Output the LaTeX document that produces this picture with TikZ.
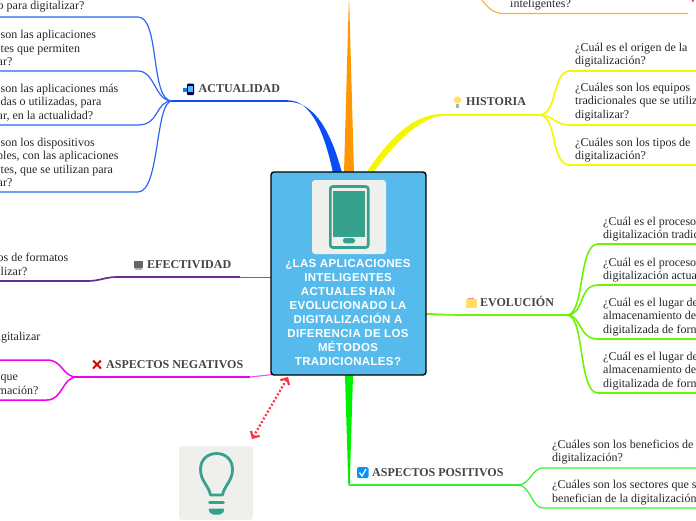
\documentclass[tikz,border=0pt]{standalone}
\usepackage{fontspec}
\setmainfont{Liberation Serif}
\newfontfamily\titulofont[LetterSpace=3]{Liberation Sans}
\usetikzlibrary{arrows.meta}

\definecolor{azulcaja}{HTML}{56BBEC}
\definecolor{tealicono}{HTML}{36A28D}
\definecolor{fondoicono}{HTML}{EFEFEB}
\definecolor{azulrama}{HTML}{0A4DF5}
\definecolor{azulhoja}{HTML}{2B66F6}
\definecolor{naranjarama}{HTML}{FF9800}
\definecolor{amarillorama}{HTML}{F6F600}
\definecolor{lima}{HTML}{6CF400}
\definecolor{verderama}{HTML}{00F000}
\definecolor{verdehoja}{HTML}{33EE33}
\definecolor{purpura}{HTML}{6A2C91}
\definecolor{magenta2}{HTML}{F000F0}
\definecolor{rojorel}{HTML}{FF3344}
\definecolor{textotema}{HTML}{444444}

\tikzset{
  central/.style={draw=black, line width=1.4pt, fill=azulcaja, rounded corners=3pt, minimum width=155pt, minimum height=203pt, inner sep=0pt},
  titulo/.style={text=white, align=center, inner sep=0pt, font=\titulofont\bfseries\fontsize{11.5}{14}\selectfont},
  fondoimg/.style={fill=fondoicono, rounded corners=3pt, inner sep=0pt, minimum width=74pt, minimum height=74pt},
  tema/.style={anchor=base west, inner sep=0pt, text=textotema, font=\bfseries\fontsize{12}{14}\selectfont},
  hoja/.style={anchor=west, align=left, inner sep=0pt, yshift=-1pt, text=black!85, font=\fontsize{12}{13.6}\selectfont},
  relacion/.style={rojorel, line width=2.2pt, dash pattern=on 2pt off 2pt, {Straight Barb[length=5pt,width=10pt]}-{Straight Barb[length=5pt,width=10pt]}}
}

\begin{document}
\begin{tikzpicture}[x=1pt,y=-1pt]
\useasboundingbox (0,0) rectangle (696,520);
\clip (0,0) rectangle (696,520);

% Ramas gruesas que salen de la caja central
\coordinate (actA) at (333,173);
\coordinate (actB) at (342,173);
\coordinate (act0) at (288,101);
\coordinate (hisA) at (366,173);
\coordinate (hisB) at (373,173);
\coordinate (his0) at (442,115);
\coordinate (posA) at (345,375);
\coordinate (posB) at (353,375);
\coordinate (pos0) at (349,485);
\fill[azulrama] (actA) .. controls (325,135) and (312,100.3) .. (288,100.3) -- (288,101.7) .. controls (316,102) and (332,135) .. (actB) -- cycle;
\fill[naranjarama] (344,173) -- (349,-6) -- (354,173) -- cycle;
\fill[amarillorama] (hisA) .. controls (385,145) and (410,114) .. (442,114) -- (442,116) .. controls (420,117) and (392,146) .. (hisB) -- cycle;
\fill[verderama] (posA) -- (348.3,485) -- (349.7,485) -- (posB) -- cycle;

% ACTUALIDAD
\coordinate (hubact) at (172,101);
\coordinate (act1) at (138,17);
\coordinate (act2) at (138,71);
\coordinate (act3) at (138,125);
\coordinate (act4) at (138,192);
\draw[azulrama, line width=1.3pt] (act0) -- (hubact);
\draw[azulhoja, line width=1.2pt] (hubact) .. controls (150,101) and (160,17) .. (act1) -- (0,17);
\draw[azulhoja, line width=1.2pt] (hubact) .. controls (155,101) and (155,71) .. (act2) -- (0,71);
\draw[azulhoja, line width=1.2pt] (hubact) .. controls (155,101) and (160,125) .. (act3) -- (0,125);
\draw[azulhoja, line width=1.2pt] (hubact) .. controls (155,101) and (160,192) .. (act4) -- (0,192);

% Hoja naranja de arriba
\coordinate (nar0) at (482,0);
\coordinate (nar1) at (503,13.5);
\draw[naranjarama!80, line width=1.1pt] (nar0) .. controls (488,8) and (494,13.5) .. (nar1) -- (688,13.5);
\fill[rojorel] (691.5,0) -- (694,0) -- (693,2.5) -- cycle;

% HISTORIA
\coordinate (hubhis) at (540,115);
\coordinate (his1) at (570,71);
\coordinate (his2) at (570,125);
\coordinate (his3) at (570,165);
\draw[amarillorama, line width=2pt] (his0) -- (hubhis);
\draw[amarillorama, line width=1.6pt] (hubhis) .. controls (558,113) and (552,71) .. (his1) -- (696,71);
\draw[amarillorama, line width=1.6pt] (hubhis) .. controls (552,115) and (555,125) .. (his2) -- (696,125);
\draw[amarillorama, line width=1.6pt] (hubhis) .. controls (558,117) and (550,165) .. (his3) -- (696,165);

% EVOLUCION
\coordinate (evo0) at (457,315);
\coordinate (hubevo) at (567,315);
\coordinate (evo1) at (598,244);
\coordinate (evo2) at (598,285);
\coordinate (evo3) at (598,339);
\coordinate (evo4) at (598,393);
\fill[lima] (426,313) -- (457,314.2) -- (457,315.8) -- (426,315) -- cycle;
\draw[lima, line width=1.7pt] (evo0) -- (hubevo);
\draw[lima, line width=1.6pt] (hubevo) .. controls (585,315) and (578,244) .. (evo1) -- (696,244);
\draw[lima, line width=1.6pt] (hubevo) .. controls (585,315) and (578,285) .. (evo2) -- (696,285);
\draw[lima, line width=1.6pt] (hubevo) .. controls (582,315) and (578,339) .. (evo3) -- (696,339);
\draw[lima, line width=1.6pt] (hubevo) .. controls (585,315) and (578,393) .. (evo4) -- (696,393);

% ASPECTOS POSITIVOS
\coordinate (hubpos) at (518,485);
\coordinate (pos1) at (543,468);
\coordinate (pos2) at (543,508);
\draw[verdehoja, line width=1.3pt] (pos0) -- (hubpos);
\draw[verdehoja, line width=1.2pt] (hubpos) .. controls (530,485) and (532,468) .. (pos1) -- (696,468);
\draw[verdehoja, line width=1.2pt] (hubpos) .. controls (530,485) and (532,508) .. (pos2) -- (696,508);

% EFECTIVIDAD
\coordinate (efe0) at (240,277);
\coordinate (efe1) at (117,277);
\coordinate (efe2) at (87,281);
\draw[purpura!80, line width=1pt] (271,277) -- (efe0);
\draw[purpura, line width=1.7pt] (efe0) -- (efe1) .. controls (105,277) and (100,281) .. (efe2);
\draw[purpura, line width=1.2pt] (efe2) -- (0,281);

% ASPECTOS NEGATIVOS
\coordinate (neg0) at (250,377);
\coordinate (hubneg) at (77,377);
\coordinate (neg1) at (47,360);
\coordinate (neg2) at (47,400);
\draw[magenta2!70, line width=1.1pt] (273,374.5) -- (neg0);
\draw[magenta2, line width=1.7pt] (neg0) -- (hubneg);
\draw[magenta2, line width=1.5pt] (hubneg) .. controls (62,377) and (63,360) .. (neg1) -- (0,360);
\draw[magenta2, line width=1.5pt] (hubneg) .. controls (62,377) and (63,400) .. (neg2) -- (0,400);

% Caja central con el telefono
\node[central] (caja) at (348.5,273.5) {};
\node[fondoimg] (imgtel) at (349,217) {};
\draw[tealicono, line width=2.6pt, rounded corners=2.5pt] (330.3,186.5) rectangle (368.2,247.5);
\fill[tealicono] (333,191) rectangle (365,236.5);
\fill[tealicono, rounded corners=2.4pt] (343,238) rectangle (355,243.3);
\node[titulo] (pregunta) at (348,313) {¿LAS APLICACIONES\\INTELIGENTES\\ACTUALES HAN\\EVOLUCIONADO LA\\DIGITALIZACIÓN A\\DIFERENCIA DE LOS\\MÉTODOS\\TRADICIONALES?};

% Caja de la bombilla y flecha roja
\node[fondoimg] (imgidea) at (216,483) {};
\draw[tealicono, line width=2.8pt, line join=round] (210.5,495) .. controls (209,486) and (200.5,481) .. (200.5,469.5) .. controls (200.5,459.5) and (207.5,453.5) .. (216.5,453.5) .. controls (225.5,453.5) and (232.5,459.5) .. (232.5,469.5) .. controls (232.5,481) and (224,486) .. (222.5,495) -- cycle;
\draw[tealicono, line width=2.8pt, line cap=round] (209.5,502.5) -- (223.5,502.5);
\fill[tealicono, rounded corners=2pt] (208,508.5) -- (225,508.5) -- (222,514.5) -- (211,514.5) -- cycle;
\coordinate (rel1) at (252,439);
\coordinate (rel2) at (288,377);
\draw[relacion] (rel1) -- (rel2);

% Temas con su icono
\node[tema] (actualidad) at (198.5,92) {ACTUALIDAD};
\fill[azulrama!70!cyan] (183,88) rectangle (188,92);
\fill[black!70!blue, rounded corners=1pt] (187,83.5) rectangle (194,95);
\fill[azulcaja] (188.3,85.5) rectangle (192.7,92);
\node[tema] (historia) at (466,105) {HISTORIA};
\fill[yellow!70!orange!60] (457.5,100) circle (3.7);
\fill[black!30] (456,104) rectangle (459,108);
\node[tema] (efectividad) at (147,268) {EFECTIVIDAD};
\fill[black!60] (133.5,261) rectangle (143,267.5);
\fill[black!30] (135,267.5) rectangle (142,270);
\node[tema] (evolucion) at (480,306) {EVOLUCIÓN};
\fill[orange!45!yellow!60] (465.5,298.5) rectangle (477,307.5);
\fill[red!50] (468,297.5) rectangle (474,299);
\node[tema] (positivos) at (372,476) {ASPECTOS POSITIVOS};
\fill[azulrama!60!cyan, rounded corners=1.5pt] (357,467) rectangle (368.5,478);
\draw[white, line width=1.2pt] (359.5,472.5) -- (362,476) -- (366,469);
\node[tema] (negativos) at (106,368) {ASPECTOS NEGATIVOS};
\draw[red!85!black, line width=2pt] (93,360.5) -- (101,368.5) (101,360.5) -- (93,368.5);

% Textos de las hojas
\node[hoja] (t1) at (0.5,6) {\hspace*{-3pt}o para digitalizar?};
\node[hoja] (t2) at (0.5,47) {son las aplicaciones\\tes que permiten\\\hspace*{-3pt}ar?};
\node[hoja] (t3) at (0.5,101.5) {son las aplicaciones más\\das o utilizadas, para\\\hspace*{-3pt}ar, en la actualidad?};
\node[hoja] (t4) at (0.5,161.5) {son los dispositivos\\\hspace*{-3.5pt}bles, con las aplicaciones\\tes, que se utilizan para\\\hspace*{-3pt}ar?};
\node[hoja] (t5) at (0.5,263.5) {\hspace*{-3pt}os de formatos\\lizar?};
\node[hoja] (t6) at (0.5,336.5) {\hspace*{-3pt}igitalizar};
\node[hoja] (t7) at (0.5,383.5) {que\\\hspace*{-3pt}mación?};
\node[hoja] (t8) at (510,3.5) {inteligentes?};
\node[hoja] (t9) at (575,54) {¿Cuál es el origen de la\\digitalización?};
\node[hoja] (t10) at (575,101) {¿Cuáles son los equipos\\tradicionales que se utiliz\\digitalizar?};
\node[hoja] (t11) at (575,149) {¿Cuáles son los tipos de\\digitalización?};
\node[hoja] (t12) at (603,228) {¿Cuál es el proceso\\digitalización tradic};
\node[hoja] (t13) at (603,269) {¿Cuál es el proceso\\digitalización actua};
\node[hoja] (t14) at (603,316) {¿Cuál es el lugar de\\almacenamiento de\\digitalizada de forn};
\node[hoja] (t15) at (603,370) {¿Cuál es el lugar de\\almacenamiento de\\digitalizada de forn};
\node[hoja] (t16) at (552,451) {¿Cuáles son los beneficios de\\digitalización?};
\node[hoja] (t17) at (552,491.5) {¿Cuáles son los sectores que s\\benefician de la digitalización};
\end{tikzpicture}
\end{document}
